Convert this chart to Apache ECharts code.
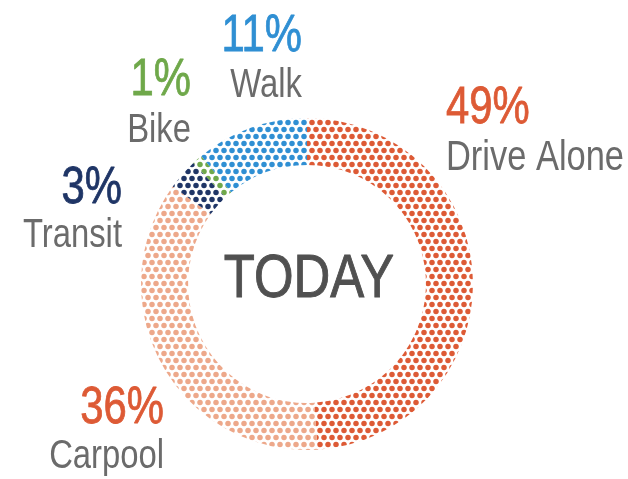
<!DOCTYPE html>
<html>
<head>
<meta charset="utf-8">
<script src="https://cdn.jsdelivr.net/npm/echarts@6/dist/echarts.min.js"></script>
<style>
  html, body { margin: 0; padding: 0; background: #fff; }
  #main { width: 628px; height: 479px; }
</style>
</head>
<body>
<div id="main"></div>
<script>
// mode share, today
const categories = ['Drive Alone', 'Carpool', 'Transit', 'Bike', 'Walk'];
const shares = [49, 36, 3, 1, 11];
const centerText = 'TODAY';

const sliceColors = ['#DD5A35', '#EDA88A', '#1F3566', '#6FA84A', '#2F8FD3'];
const pctColors = ['#DD5A35', '#DD5A35', '#1F3566', '#6FA84A', '#2F8FD3'];

// label anchor: x, percent baseline, name baseline, align, name size
const labelAnchors = [
    [446, 125, 171, 'left', 42],
    [164, 425, 469, 'right', 40],
    [122, 205, 248, 'right', 40],
    [191, 97, 143, 'right', 40],
    [302, 53, 98, 'right', 40]
];

const FONT = '"Liberation Sans", Arial, sans-serif';
const NARROW = 0.82;   // squeeze to look like a condensed face
const PCT_SIZE = 51;

// staggered dot screen
function dotPattern(color) {
    const c = document.createElement('canvas');
    c.width = 8;
    c.height = 14;
    const ctx = c.getContext('2d');
    ctx.fillStyle = color;
    [[4, 3.5], [0, 10.5], [8, 10.5]].forEach(function (d) {
        ctx.beginPath();
        ctx.arc(d[0], d[1], 2.75, 0, Math.PI * 2);
        ctx.fill();
    });
    return { image: c, repeat: 'repeat' };
}

function narrowText(str, x, baseline, size, color, align, heavy) {
    return {
        type: 'text',
        x: x,
        y: baseline - 0.31 * size,
        scaleX: NARROW,
        silent: true,
        style: {
            x: 0,
            y: 0,
            text: str,
            fill: color,
            stroke: heavy ? color : null,
            lineWidth: heavy || 0,
            font: size + 'px ' + FONT,
            textAlign: align,
            textVerticalAlign: 'middle'
        }
    };
}

let graphics = [narrowText(centerText, 309, 299, 62, '#505050', 'center', 1)];
categories.forEach(function (name, i) {
    const a = labelAnchors[i];
    graphics.push(narrowText(shares[i] + '%', a[0], a[1], PCT_SIZE, pctColors[i], a[3], 0.8));
    graphics.push(narrowText(name, a[0], a[2], a[4], '#6B6B6B', a[3], 0));
});

let pieData = categories.map(function (name, i) {
    return {
        name: name,
        value: shares[i],
        itemStyle: { color: dotPattern(sliceColors[i]) }
    };
});

const chart = echarts.init(document.getElementById('main'), null, { renderer: 'canvas' });
chart.setOption({
    animation: false,
    backgroundColor: '#fff',
    graphic: graphics,
    series: [{
        type: 'pie',
        center: [307, 284],
        radius: [119, 166],
        startAngle: 90,
        clockwise: true,
        silent: true,
        emphasis: { disabled: true },
        itemStyle: { borderWidth: 0 },
        label: { show: false },
        labelLine: { show: false },
        data: pieData
    }]
});

window.addEventListener('resize', function () {
    chart.resize();
});
</script>
</body>
</html>
